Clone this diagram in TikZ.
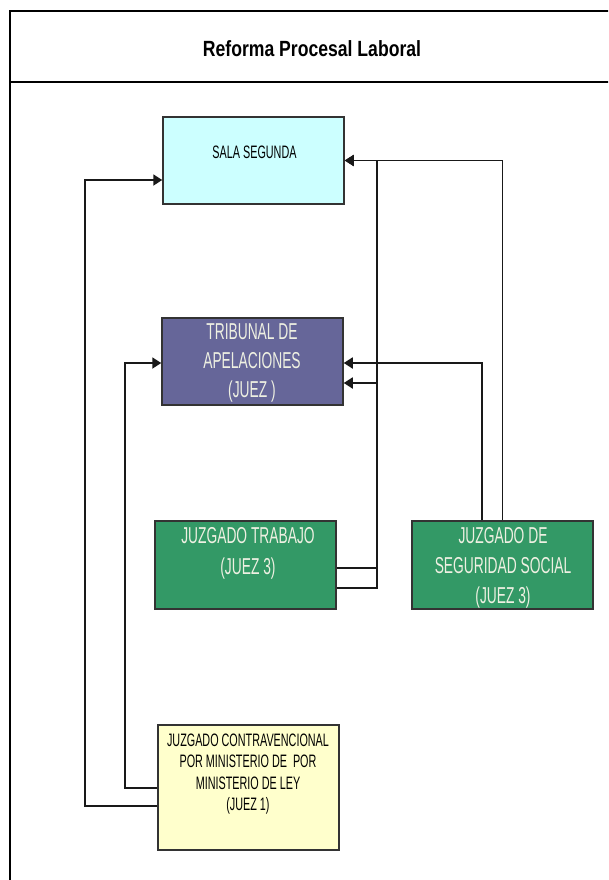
\documentclass[tikz,border=0pt]{standalone}
\usepackage{fontspec}
\setmainfont{Liberation Sans}
\newfontfamily\nf[FakeStretch=0.6]{Liberation Sans}
\newfontfamily\tf[FakeStretch=0.8]{Liberation Sans}
\usetikzlibrary{arrows.meta}
\definecolor{salafill}{HTML}{CCFFFF}
\definecolor{tribfill}{HTML}{666699}
\definecolor{greenfill}{HTML}{339966}
\definecolor{yelfill}{HTML}{FFFFCC}
\definecolor{edge}{HTML}{333333}
\definecolor{lighttxt}{HTML}{EEF0E2}
\tikzset{
  box/.style={draw=edge, line width=1.5pt, minimum width=181pt, inner sep=0pt},
  conn/.style={draw=black!90, line width=1.8pt, -{Triangle[length=9pt,width=11pt]}},
  lbl/.style={inner sep=0pt, align=center},
}
\begin{document}
\begin{tikzpicture}[x=1pt,y=-1pt]
\useasboundingbox (0,0) rectangle (608,880);
\fill[white] (0,0) rectangle (608,880);
\begin{scope}
\clip (0,0) rectangle (608,880);
\draw[line width=2.4pt] (640,11) -- (10,11) -- (10,900);
\draw[line width=2.4pt] (10,82) -- (640,82);
\end{scope}
\node[lbl, font={\tf\bfseries\fontsize{22}{26}\selectfont}] (title) at (312,49) {Reforma Procesal Laboral};

\node[box, fill=salafill, minimum height=87pt] (sala) at (253.5,160.5) {};
\node[box, fill=tribfill, minimum height=87pt] (trib) at (252.5,361.5) {};
\node[box, fill=greenfill, minimum height=88pt] (trab) at (245.5,565) {};
\node[box, fill=greenfill, minimum height=88pt] (seg) at (502.5,565) {};
\node[box, fill=yelfill, minimum height=125pt] (contra) at (248.5,787.5) {};

\node[lbl, font={\nf\fontsize{18}{21}\selectfont}] (salaT) at (254.5,152) {SALA SEGUNDA};
\node[lbl, text=lighttxt, font={\nf\fontsize{23}{29}\selectfont}] (tribT) at (252,363) {TRIBUNAL DE\\APELACIONES\\(JUEZ )};
\node[lbl, text=lighttxt, font={\nf\fontsize{23}{31}\selectfont}] (trabT) at (248,553) {JUZGADO TRABAJO\\(JUEZ 3)};
\node[lbl, text=lighttxt, font={\nf\fontsize{23}{30}\selectfont}] (segT) at (503,568) {JUZGADO DE\\SEGURIDAD SOCIAL\\(JUEZ 3)};
\node[lbl, font={\nf\fontsize{18}{21.3}\selectfont}] (contraT) at (248,774) {JUZGADO CONTRAVENCIONAL\\POR MINISTERIO DE\ \ POR\\MINISTERIO DE LEY\\(JUEZ 1)};

\draw[conn] ([yshift=-3pt]trab.east) -- ++(40,0) |- (sala.east);
\draw[conn] ([yshift=-23pt]trab.east) -- ++(40,0) |- ([yshift=-21.5pt]trib.east);
\draw[conn] (seg.north) |- (sala.east);
\draw[conn] ([xshift=-20.5pt]seg.north) |- ([yshift=-1.5pt]trib.east);
\draw[conn] ([yshift=-0.5pt]contra.west) -- ++(-32,0) |- ([yshift=-1.5pt]trib.west);
\draw[conn] ([yshift=-18.5pt]contra.west) -- ++(-72,0) |- ([yshift=-19.5pt]sala.west);
\end{tikzpicture}
\end{document}
